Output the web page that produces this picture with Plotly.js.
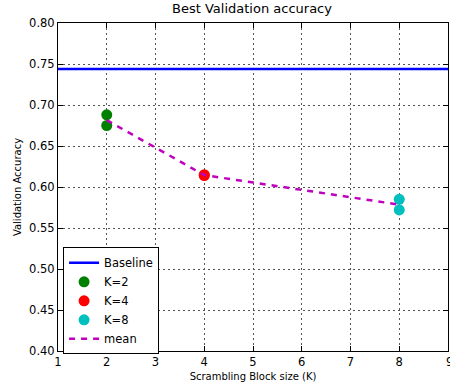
<!DOCTYPE html>
<html><head><meta charset="utf-8">
<script src="https://cdn.plot.ly/plotly-3.0.1.min.js"></script>
<style>html,body{margin:0;padding:0;background:#fff}#c{width:450px;height:387px}</style>
</head><body><div id="c"></div>
<script>
const baselineX = [1, 9];
const baselineY = [0.744, 0.744];
const k2X = [2, 2];
const k2Y = [0.688, 0.675];
const k4X = [4, 4];
const k4Y = [0.615, 0.614];
const k8X = [8, 8];
const k8Y = [0.585, 0.572];
const meanX = [2, 4, 8];
const meanY = [0.6815, 0.6145, 0.5785];
const xTicks = [1, 2, 3, 4, 5, 6, 7, 8, 9];
const yTicks = [0.40, 0.45, 0.50, 0.55, 0.60, 0.65, 0.70, 0.75, 0.80];

const FAM = 'DejaVu Sans, sans-serif';
const tickFont = {family: FAM, size: 11.5, color: '#000'};
const traces = [
  {x: baselineX, y: baselineY, mode: 'lines', name: 'Baseline', line: {color: '#0000ff', width: 2.5}},
  {x: k2X, y: k2Y, mode: 'markers', name: 'K=2', marker: {color: '#008000', size: 11}},
  {x: k4X, y: k4Y, mode: 'markers', name: 'K=4', marker: {color: '#ff0000', size: 11}},
  {x: k8X, y: k8Y, mode: 'markers', name: 'K=8', marker: {color: '#00bfbf', size: 11}},
  {x: meanX, y: meanY, mode: 'lines', name: 'mean', line: {color: '#bf00bf', width: 2.5, dash: '6px,6px'}}
];
const axisCommon = {
  showline: true, linecolor: '#000', linewidth: 1, mirror: 'ticks',
  ticks: 'inside', ticklen: 5, tickcolor: '#000',
  showgrid: true, gridcolor: '#555', griddash: '2px,3px', gridwidth: 1,
  zeroline: false, tickfont: tickFont
};
const lastX = xTicks[xTicks.length - 1];
const layout = {
  width: 450, height: 387,
  margin: {l: 58, r: 2, t: 23, b: 36},
  paper_bgcolor: '#fff', plot_bgcolor: '#fff',
  font: {family: FAM, size: 10, color: '#000'},
  title: {text: 'Best Validation accuracy', font: {family: FAM, size: 13, color: '#000'}, x: 0.56, xanchor: 'center', y: 0.99, yanchor: 'top'},
  xaxis: Object.assign({}, axisCommon, {range: [1, 9], tickvals: xTicks, ticktext: xTicks.map(String),
    title: {text: 'Scrambling Block size (K)', font: {family: FAM, size: 10, color: '#000'}, standoff: 5}}),
  yaxis: Object.assign({}, axisCommon, {range: [0.40, 0.80], tickvals: yTicks, ticktext: yTicks.map(v => v.toFixed(2)),
    title: {text: 'Validation Accuracy', font: {family: FAM, size: 10, color: '#000'}, standoff: 5}}),
  annotations: [{x: lastX, xref: 'x', y: 0, yref: 'paper', yanchor: 'top', xanchor: 'left', xshift: -4, yshift: -2,
    text: String(lastX), showarrow: false, font: tickFont}],
  showlegend: true,
  legend: {x: 0.013, y: 0.316, xanchor: 'left', yanchor: 'top', bgcolor: '#fff', bordercolor: '#000', borderwidth: 1,
    font: {family: FAM, size: 11.5, color: '#000'}, tracegroupgap: 0, itemwidth: 30}
};
Plotly.newPlot('c', traces, layout, {displayModeBar: false, staticPlot: true});
</script></body></html>
